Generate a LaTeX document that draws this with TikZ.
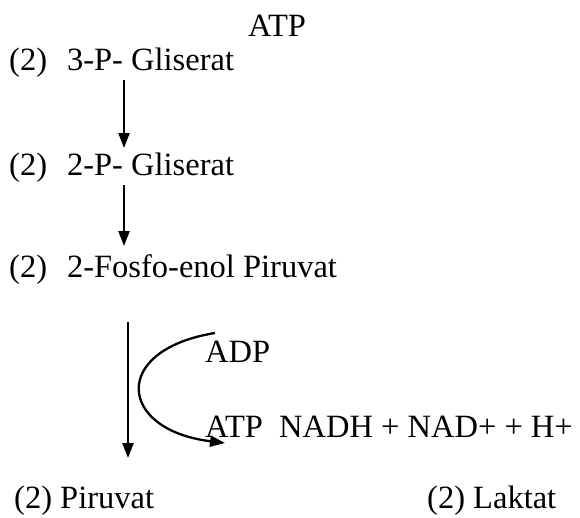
\documentclass[tikz,border=0pt]{standalone}
\usepackage{fontspec}
\setmainfont{Liberation Serif}
\usetikzlibrary{arrows.meta}
\tikzset{
  label text/.style={anchor=base west, inner sep=0pt, font=\fontsize{32.5}{39}\selectfont},
  flow/.style={line width=2.3pt, -{Triangle[length=15pt, width=11pt]}},
}
% gap after the stoichiometric factor
\newcommand{\fgap}{\hspace{20pt}}
\begin{document}
\begin{tikzpicture}[x=1pt, y=-1pt]
  \useasboundingbox (0,0) rectangle (580,517);

  % metabolites and cofactors
  \node[label text] (atptop) at (248,36) {ATP};
  \node[label text] (pg3) at (9,70) {(2)\fgap 3-P- Gliserat};
  \node[label text] (pg2) at (9,175) {(2)\fgap 2-P- Gliserat};
  \node[label text] (pep) at (9,277) {(2)\fgap 2-Fosfo-enol Piruvat};
  \node[label text] (adp) at (205,362) {ADP};
  \node[label text] (atp) at (205,437) {ATP\hspace{0.5em}NADH + NAD+ + H+};
  \node[label text] (pyr) at (14,508) {(2) Piruvat};
  \node[label text] (lac) at (427,508) {(2) Laktat};

  % arrow end points
  \coordinate (a1s) at (124,80);
  \coordinate (a1e) at (124,148);
  \coordinate (a2s) at (124,185);
  \coordinate (a2e) at (124,246);
  \coordinate (a3s) at (128,322);
  \coordinate (a3e) at (128,458);
  \coordinate (cs) at (215,333);
  \coordinate (ce) at (225,443);

  % reaction arrows
  \draw[flow] (a1s) -- (a1e);
  \draw[flow] (a2s) -- (a2e);
  \draw[flow] (a3s) -- (a3e);
  \draw[flow] (cs) .. controls (110,350) and (118,430) .. (ce);
\end{tikzpicture}
\end{document}
